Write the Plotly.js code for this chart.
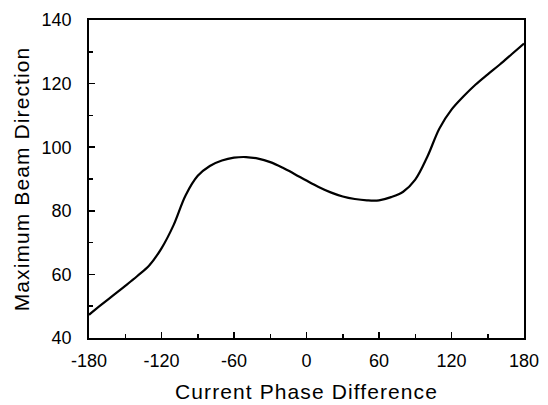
<!DOCTYPE html>
<html>
<head>
<meta charset="utf-8">
<script src="https://cdn.plot.ly/plotly-3.0.1.min.js"></script>
<style>
html,body{margin:0;padding:0;background:#fff;}
#chart{width:548px;height:405px;}
.xtitle,.ytitle{letter-spacing:1.1px;}
</style>
</head>
<body>
<div id="chart"></div>
<script>
const phaseDiff = [-180,-170,-160,-150,-140,-130,-120,-110,-100,-90,-80,-70,-60,-50,-40,-30,-20,-10,0,10,20,30,40,50,60,70,80,90,100,110,120,130,140,150,160,170,180];
const beamDir   = [47.3,50.4,53.4,56.4,59.5,62.9,68.2,75.5,84.9,91.0,94.1,95.8,96.7,96.9,96.4,95.3,93.6,91.6,89.5,87.5,85.8,84.5,83.7,83.3,83.3,84.3,86.0,89.8,97.0,105.9,111.8,116.0,119.7,122.9,126.0,129.3,132.6];
const xTickVals = [-180,-120,-60,0,60,120,180];
const yTickVals = [40,60,80,100,120,140];

const axisFont = {family:'Arial, "Liberation Sans", sans-serif', size:18, color:'#000'};
const titleFont = {family:'Arial, "Liberation Sans", sans-serif', size:21, color:'#000'};

Plotly.newPlot('chart', [{
  x: phaseDiff, y: beamDir, type:'scatter', mode:'lines',
  line:{color:'#000', width:2.2, shape:'spline', smoothing:1},
  hoverinfo:'skip'
}], {
  width:548, height:405,
  margin:{l:89, r:24, t:20, b:67},
  paper_bgcolor:'#fff', plot_bgcolor:'#fff',
  showlegend:false,
  xaxis:{
    range:[-180,180], tickvals:xTickVals, ticktext:xTickVals.map(String),
    ticks:'inside', ticklen:6, tickwidth:1.5, tickcolor:'#000',
    minor:{dtick:30, tick0:-180, ticks:'inside', ticklen:4, tickwidth:1.5, tickcolor:'#000', showgrid:false},
    showline:true, linecolor:'#000', linewidth:1.8, mirror:true,
    showgrid:false, zeroline:false, tickfont:axisFont, ticklabelstandoff:6,
    title:{text:'Current Phase Difference', font:titleFont, standoff:14}
  },
  yaxis:{
    range:[40,140], tickvals:yTickVals, ticktext:yTickVals.map(String),
    ticks:'inside', ticklen:6, tickwidth:1.5, tickcolor:'#000',
    minor:{dtick:10, tick0:40, ticks:'inside', ticklen:4, tickwidth:1.5, tickcolor:'#000', showgrid:false},
    showline:true, linecolor:'#000', linewidth:1.8, mirror:true,
    showgrid:false, zeroline:false, tickfont:axisFont, ticklabelstandoff:12,
    title:{text:'Maximum Beam Direction', font:titleFont, standoff:6}
  }
}, {staticPlot:true, displayModeBar:false});
</script>
</body>
</html>
